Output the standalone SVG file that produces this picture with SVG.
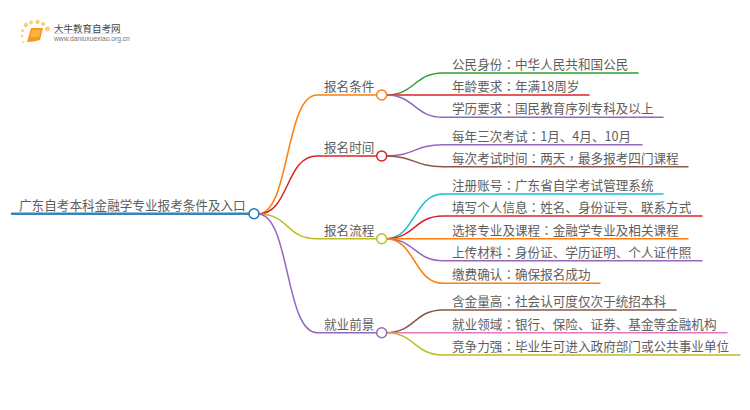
<svg xmlns="http://www.w3.org/2000/svg" width="750" height="410" viewBox="0 0 750 410">
<style>
text{font-family:"Noto Sans CJK SC","Liberation Sans",sans-serif;font-size:12.6px;fill:#5e5e5e}
.c{font-family:"Noto Sans CJK TC",sans-serif}
#connectors path{fill:none;stroke-width:1.5;stroke-linecap:round}
circle{fill:#fff;stroke-width:1.5}
.o{stroke:#ff7f0e}.r{stroke:#d62728}.y{stroke:#bcbd22}.p{stroke:#9467bd}.g{stroke:#2ca02c}.b{stroke:#8c564b}.t{stroke:#17becf}.k{stroke:#e377c2}
</style>
<rect width="750" height="410" fill="#fff"/>
<g id="logo">
<g opacity=".85"><circle cx="26" cy="25" r="2.2" style="fill:#fbc65c;stroke:none"/><circle cx="31" cy="22.500" r="2" style="fill:#fbc65c;stroke:none"/><circle cx="37.500" cy="22" r="2.200" style="fill:#fbc65c;stroke:none"/><circle cx="43" cy="24" r="2" style="fill:#fbc65c;stroke:none"/><circle cx="47.500" cy="29" r="2.400" style="fill:#fbc65c;stroke:none"/><circle cx="22.500" cy="30.500" r="1.500" style="fill:#fbc65c;stroke:none"/><circle cx="22" cy="36" r="1.300" style="fill:#fbc65c;stroke:none"/><circle cx="23" cy="42" r="1" style="fill:#fbc65c;stroke:none"/></g>
<path d="M31 28H43L40 40Q34 42 27 42Z" fill="#f59a1e"/>
<path d="M32 30H41L39 37H30Z" fill="#fbb040"/>
<text x="54" y="31.500" style="font-size:9.500px;fill:#444">大牛教育自考网</text>
<rect x="54" y="33" width="68" height="1" fill="#ddd"/>
<text x="54" y="41" style="font-family:'Liberation Sans',sans-serif;font-size:6.700px;fill:#777">www.daniuxuexiao.org.cn</text>
</g>
<g id="connectors">
<path d="M12 213.700H248" stroke="#1f77b4" style="stroke-width:2.500;stroke-opacity:.9"/>
<path class="o" d="M258 214C290 214 285 95 317 95H377"/>
<path class="r" d="M258 214C290 214 285 156 317 156H377"/>
<path class="y" d="M258 214C290 214 285 238.700 317 238.700H377"/>
<path class="p" d="M258 214C290 214 285 332.700 317 332.700H377"/>
<path class="g" d="M386 95C415 95 414 73 443 73H638"/>
<path class="r" d="M386 95H589"/>
<path class="p" d="M386 95C415 95 414 117.300 443 117.300H663"/>
<path class="p" d="M386 156C415 156 414 144.700 443 144.700H642"/>
<path class="b" d="M386 156C415 156 414 166.700 443 166.700H688"/>
<path class="t" d="M386 238.700C415 238.700 414 194 443 194H663"/>
<path class="r" d="M386 238.700C415 238.700 414 216 443 216H702"/>
<path class="o" d="M386 238.700H688"/>
<path class="p" d="M386 238.700C415 238.700 414 260.700 443 260.700H702"/>
<path class="o" d="M386 238.700C415 238.700 414 283.300 443 283.300H600"/>
<path class="b" d="M386 332.700C415 332.700 414 310 443 310H676"/>
<path class="k" d="M386 332.700H727"/>
<path class="y" d="M386 332.700C415 332.700 414 355 443 355H740"/>
</g>
<g id="root"><text x="19" y="210">广东自考本科金融学专业报考条件及入口</text><circle cx="254" cy="213.700" r="5" stroke="#1f77b4"/></g>
<g id="n1"><text x="324" y="91">报名条件</text><circle class="o" cx="381.700" cy="95" r="5"/></g>
<g id="n2"><text x="324" y="152">报名时间</text><circle class="r" cx="381.700" cy="156" r="5"/></g>
<g id="n3"><text x="324" y="234.700">报名流程</text><circle class="y" cx="381.700" cy="238.700" r="5"/></g>
<g id="n4"><text x="324" y="328.700">就业前景</text><circle class="p" cx="381.700" cy="332.700" r="5"/></g>
<g id="l1"><text x="452" y="69">公民身份<tspan class="c">：</tspan>中华人民共和国公民</text></g>
<g id="l2"><text x="452" y="91">年龄要求<tspan class="c">：</tspan>年满18周岁</text></g>
<g id="l3"><text x="452" y="113.300">学历要求<tspan class="c">：</tspan>国民教育序列专科及以上</text></g>
<g id="l4"><text x="452" y="140.700">每年三次考试<tspan class="c">：</tspan>1月、4月、10月</text></g>
<g id="l5"><text x="452" y="162.700">每次考试时间<tspan class="c">：</tspan>两天<tspan class="c">，</tspan>最多报考四门课程</text></g>
<g id="l6"><text x="452" y="190">注册账号<tspan class="c">：</tspan>广东省自学考试管理系统</text></g>
<g id="l7"><text x="452" y="212">填写个人信息<tspan class="c">：</tspan>姓名、身份证号、联系方式</text></g>
<g id="l8"><text x="452" y="234.700">选择专业及课程<tspan class="c">：</tspan>金融学专业及相关课程</text></g>
<g id="l9"><text x="452" y="256.700">上传材料<tspan class="c">：</tspan>身份证、学历证明、个人证件照</text></g>
<g id="l10"><text x="452" y="279.300">缴费确认<tspan class="c">：</tspan>确保报名成功</text></g>
<g id="l11"><text x="452" y="306">含金量高<tspan class="c">：</tspan>社会认可度仅次于统招本科</text></g>
<g id="l12"><text x="452" y="328.700">就业领域<tspan class="c">：</tspan>银行、保险、证券、基金等金融机构</text></g>
<g id="l13"><text x="452" y="351">竞争力强<tspan class="c">：</tspan>毕业生可进入政府部门或公共事业单位</text></g>
</svg>
